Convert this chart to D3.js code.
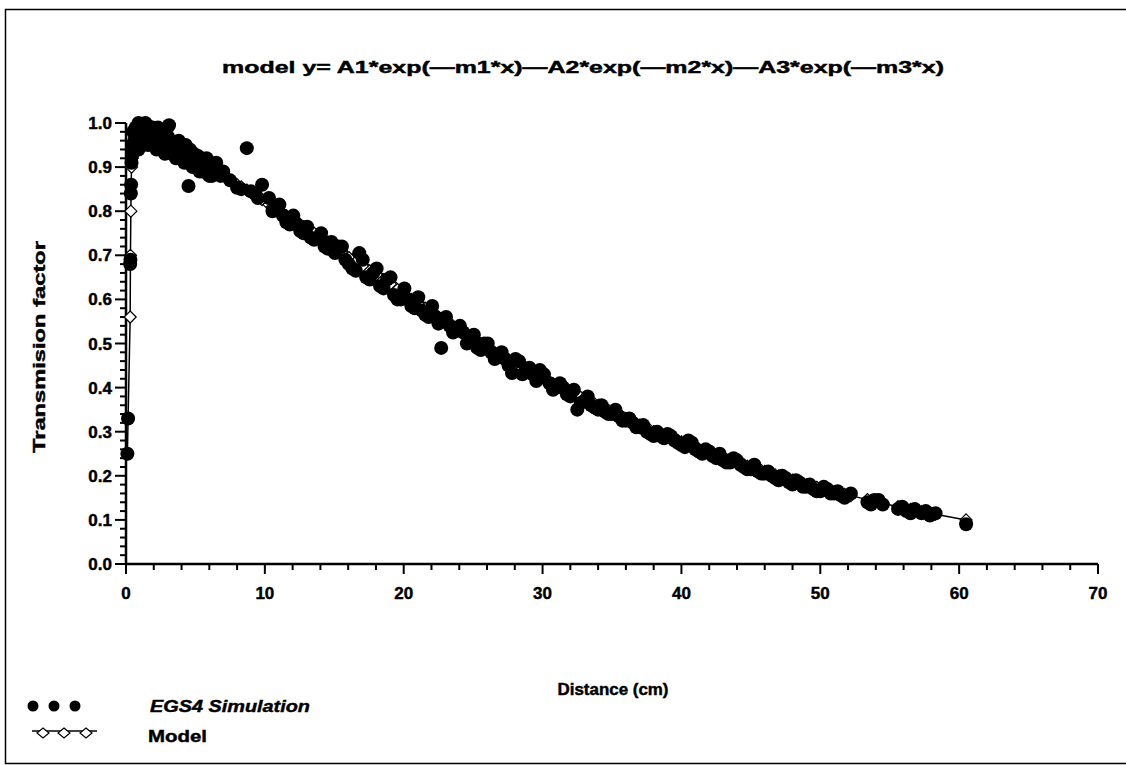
<!DOCTYPE html>
<html><head><meta charset="utf-8">
<script src="https://cdn.jsdelivr.net/npm/d3@7"></script>
<style>body{margin:0;background:#fff}svg{display:block}text{font-family:"Liberation Sans",Arial,sans-serif;font-weight:bold;fill:#000;stroke:#000;stroke-width:0.45}</style>
</head><body>
<script>
const titleText = "model  y= A1*exp(\u2014m1*x)\u2014A2*exp(\u2014m2*x)\u2014A3*exp(\u2014m3*x)";
const xLabel = "Distance (cm)";
const yLabel = "Transmision factor";
const seriesNames = ["EGS4 Simulation", "Model"];
const xTicks = [0,10,20,30,40,50,60,70];
const yTicks = [0,0.1,0.2,0.3,0.4,0.5,0.6,0.7,0.8,0.9,1.0];

const distance = [0.1,0.15,0.3,0.32,0.35,0.37,0.4,0.45,0.5,0.6,0.7,0.8,0.9,1.0,1.1,1.2,1.3,1.4,1.5,1.6,1.8,2.0,2.2,2.4,2.6,2.8,3.0,3.1,3.4,3.6,3.8,4.0,4.2,4.5,4.6,4.8,5.0,5.3,5.6,6.0,6.4,7.0,8.0,8.7,9.3,9.8,
10.3,10.8,11.3,11.8,12.3,12.8,13.3,13.8,14.3,14.8,15.3,15.8,16.3,16.8,17.3,17.8,18.3,18.8,19.3,19.8,20.3,20.8,21.3,21.8,22.3,22.7,23.3,23.8,24.3,24.8,25.3,25.8,26.3,26.8,27.3,27.8,28.3,28.8,29.3,29.8,
30.5,31.0,31.5,32.0,32.5,33.0,33.5,34.0,34.5,35.0,35.5,36.0,36.5,37.0,37.5,38.0,38.5,39.0,39.5,40.0,40.5,41.0,41.5,42.0,42.5,43.0,43.5,44.0,44.5,45.0,45.5,46.0,46.5,47.0,47.5,48.0,48.5,49.0,49.5,50.0,50.5,51.0,51.5,52.2,53.4,53.9,54.5,55.6,56.2,56.8,57.3,57.9,58.3,60.5,
0.5,0.7,0.9,1.0,1.2,1.5,1.7,1.9,2.1,2.3,2.5,2.7,2.9,3.2,3.3,3.5,3.7,3.9,4.1,4.3,4.7,4.9,5.1,5.2,5.5,5.8,6.2,6.5,6.8,7.5,8.3,9.0,9.5,
10.55,11.05,11.55,12.05,12.55,13.05,13.55,14.05,14.55,15.05,15.55,16.05,16.55,17.05,17.55,18.05,18.55,19.05,19.55,20.05,20.55,21.05,21.55,22.05,22.5,23.05,23.55,24.05,24.55,25.05,25.55,26.05,26.55,27.05,27.55,28.05,28.55,29.05,29.55,30.1,
30.75,31.25,31.75,32.25,32.75,33.25,33.75,34.25,34.75,35.25,35.75,36.25,36.75,37.25,37.75,38.25,38.75,39.25,39.75,40.25,40.75,41.25,41.75,42.25,42.75,43.25,43.75,44.25,44.75,45.25,45.75,46.25,46.75,47.25,47.75,48.25,48.75,49.25,49.75,50.25,50.75,51.25,51.75,53.65,54.2,55.9,56.5,57.6];

const egs4 = [0.25,0.33,0.68,0.69,0.84,0.86,0.91,0.95,0.98,0.96,0.99,0.97,1.00,0.96,0.99,0.95,0.98,1.00,0.97,0.95,0.99,0.96,0.94,0.98,0.95,0.93,0.97,0.995,0.94,0.92,0.96,0.93,0.91,0.857,0.94,0.90,0.92,0.89,0.91,0.88,0.90,0.89,0.853,0.943,0.84,0.86,
0.83,0.81,0.79,0.77,0.77,0.75,0.74,0.74,0.72,0.73,0.72,0.69,0.67,0.705,0.65,0.66,0.63,0.645,0.61,0.60,0.60,0.58,0.575,0.56,0.56,0.49,0.54,0.53,0.525,0.51,0.49,0.50,0.48,0.47,0.465,0.433,0.46,0.44,0.43,0.44,
0.41,0.40,0.40,0.38,0.35,0.37,0.36,0.35,0.345,0.34,0.335,0.325,0.32,0.31,0.30,0.29,0.29,0.295,0.28,0.27,0.28,0.26,0.25,0.255,0.24,0.235,0.23,0.235,0.22,0.215,0.21,0.205,0.20,0.19,0.195,0.18,0.185,0.175,0.17,0.165,0.17,0.16,0.155,0.16,0.14,0.145,0.135,0.125,0.12,0.125,0.115,0.11,0.115,0.09,
0.93,0.97,0.94,0.99,0.98,0.995,0.97,0.99,0.97,0.99,0.96,0.97,0.95,0.96,0.93,0.95,0.93,0.94,0.92,0.95,0.92,0.93,0.90,0.925,0.89,0.92,0.88,0.91,0.88,0.87,0.85,0.845,0.83,
0.80,0.815,0.775,0.79,0.755,0.765,0.735,0.75,0.715,0.705,0.72,0.68,0.665,0.69,0.645,0.67,0.625,0.65,0.60,0.625,0.585,0.605,0.565,0.585,0.545,0.56,0.525,0.54,0.50,0.52,0.485,0.50,0.465,0.48,0.45,0.465,0.43,0.445,0.415,0.43,
0.395,0.41,0.385,0.395,0.365,0.38,0.355,0.36,0.34,0.35,0.325,0.33,0.31,0.315,0.295,0.30,0.285,0.29,0.275,0.265,0.275,0.255,0.26,0.245,0.25,0.23,0.24,0.225,0.215,0.225,0.205,0.21,0.195,0.20,0.185,0.19,0.175,0.18,0.165,0.175,0.16,0.165,0.15,0.135,0.145,0.13,0.115,0.12];

const model = [0.25,0.33,0.56,0.70,0.80,0.86,0.90,0.92,0.93,0.94,0.945,0.95,0.955,0.958,0.96,0.96,0.962,0.962,0.963,0.963,0.963,0.962,0.96,0.958,0.955,0.952,0.95,0.948,0.944,0.94,0.937,0.933,0.93,0.925,0.923,0.92,0.915,0.91,0.905,0.898,0.89,0.88,0.86,0.848,0.836,0.826,
0.815,0.805,0.795,0.785,0.775,0.765,0.755,0.745,0.735,0.725,0.715,0.70,0.69,0.68,0.67,0.66,0.65,0.64,0.63,0.615,0.605,0.595,0.585,0.575,0.565,0.555,0.545,0.535,0.525,0.515,0.505,0.495,0.485,0.475,0.465,0.455,0.448,0.44,0.432,0.424,
0.413,0.405,0.397,0.39,0.382,0.375,0.367,0.36,0.352,0.345,0.337,0.33,0.322,0.315,0.307,0.30,0.295,0.29,0.283,0.277,0.271,0.265,0.258,0.252,0.246,0.24,0.235,0.23,0.225,0.22,0.215,0.21,0.205,0.20,0.195,0.19,0.185,0.18,0.176,0.172,0.168,0.164,0.16,0.155,0.146,0.142,0.138,0.13,0.126,0.122,0.119,0.116,0.113,0.10,
0.93,0.945,0.955,0.958,0.96,0.963,0.963,0.963,0.961,0.959,0.957,0.953,0.951,0.947,0.945,0.942,0.938,0.935,0.932,0.928,0.921,0.917,0.913,0.911,0.907,0.902,0.894,0.888,0.883,0.87,0.855,0.842,0.832,
0.81,0.80,0.79,0.78,0.77,0.76,0.75,0.74,0.73,0.72,0.708,0.695,0.685,0.675,0.665,0.655,0.645,0.635,0.622,0.61,0.60,0.59,0.58,0.57,0.56,0.55,0.54,0.53,0.52,0.51,0.50,0.49,0.48,0.47,0.46,0.452,0.444,0.436,0.428,0.42,
0.409,0.401,0.393,0.386,0.378,0.371,0.363,0.356,0.348,0.341,0.333,0.326,0.318,0.311,0.303,0.297,0.292,0.286,0.28,0.274,0.268,0.261,0.255,0.249,0.243,0.237,0.232,0.227,0.222,0.217,0.212,0.207,0.202,0.197,0.192,0.187,0.182,0.178,0.174,0.17,0.166,0.162,0.158,0.144,0.14,0.128,0.124,0.117];

const W = 1126, H = 765;
const svg = d3.select("body").append("svg").attr("width", W).attr("height", H);

// frame
svg.append("path").attr("d", "M1126,9.5 L5.5,9.5 L5.5,763.5 L1126,763.5").attr("fill","none").attr("stroke","#000").attr("stroke-width",1.5);

const x = d3.scaleLinear().domain([0,70]).range([126,1098]);
const y = d3.scaleLinear().domain([0,1]).range([564,123]);

// title
svg.append("text").attr("x", 583).attr("y", 73).attr("text-anchor","middle")
  .attr("font-size", 17).attr("textLength", 722).attr("lengthAdjust","spacingAndGlyphs").text(titleText);

// axes
const xAxis = svg.append("g").attr("transform", `translate(0,${y(0)})`);
xAxis.append("line").attr("x1", x(0)).attr("x2", x(70)).attr("stroke","#000").attr("stroke-width",2.5);
xAxis.selectAll("line.minor").data(d3.range(0,70.01,2)).join("line").attr("class","minor")
  .attr("x1", d=>x(d)).attr("x2", d=>x(d)).attr("y1",0).attr("y2", d=> d%10===0 ? 10 : 6).attr("stroke","#000").attr("stroke-width",2);
xAxis.selectAll("text").data(xTicks).join("text").attr("x", d=>x(d)).attr("y", 35).attr("text-anchor","middle").attr("font-size",17).text(d=>d);

const yAxis = svg.append("g").attr("transform", `translate(${x(0)},0)`);
yAxis.append("line").attr("y1", y(0)).attr("y2", y(1)).attr("stroke","#000").attr("stroke-width",2.5);
yAxis.selectAll("line.minor").data(d3.range(0,50.5,1).map(i=>i/50)).join("line").attr("class","minor")
  .attr("y1", d=>y(d)).attr("y2", d=>y(d)).attr("x1",0).attr("x2", (d,i)=> i%5===0 ? -11 : -6).attr("stroke","#000").attr("stroke-width",2);
yAxis.selectAll("text").data(yTicks).join("text").attr("x", -14).attr("y", d=>y(d)+6).attr("text-anchor","end").attr("font-size",17).text(d=>d3.format(".1f")(d));

// axis labels
svg.append("text").attr("x", 613).attr("y", 695).attr("text-anchor","middle").attr("font-size",16.5).attr("textLength",111).attr("lengthAdjust","spacingAndGlyphs").text(xLabel);
svg.append("text").attr("transform","translate(45,347) rotate(-90)").attr("text-anchor","middle").attr("font-size",17).attr("textLength",212).attr("lengthAdjust","spacingAndGlyphs").text(yLabel);

// model line and diamonds
const pts = distance.map((d,i)=>({x:d, s:egs4[i], m:model[i]}));
const linePts = pts.slice().sort((a,b)=>a.x-b.x);
svg.append("path").datum(linePts).attr("fill","none").attr("stroke","#000").attr("stroke-width",1.5)
  .attr("d", d3.line().x(d=>x(d.x)).y(d=>y(d.m)));
const diamond = "M0,-6 L6,0 L0,6 L-6,0 Z";
svg.selectAll("path.dm").data(pts).join("path").attr("class","dm")
  .attr("transform", d=>`translate(${x(d.x)},${y(d.m)})`).attr("d", diamond).attr("fill","#fff").attr("stroke","#000").attr("stroke-width",1.2);

// simulation dots
svg.selectAll("circle.sim").data(pts).join("circle").attr("class","sim")
  .attr("cx", d=>x(d.x)).attr("cy", d=>y(d.s)).attr("r", 7).attr("fill","#000");

// legend
const lg = svg.append("g");
[33,54,75].forEach(cx=> lg.append("circle").attr("cx",cx).attr("cy",706).attr("r",5.5).attr("fill","#000"));
lg.append("text").attr("x",150).attr("y",712).attr("font-size",17).attr("font-style","italic").attr("textLength",160).attr("lengthAdjust","spacingAndGlyphs").text(seriesNames[0]);
lg.append("line").attr("x1",32).attr("x2",97).attr("y1",731).attr("y2",731).attr("stroke","#000").attr("stroke-width",1.5);
[43,64,86].forEach(cx=> lg.append("path").attr("transform",`translate(${cx},733)`).attr("d","M0,-5 L6,0 L0,5 L-6,0 Z").attr("fill","#fff").attr("stroke","#000").attr("stroke-width",1.2));
lg.append("text").attr("x",148).attr("y",742).attr("font-size",17).attr("textLength",59).attr("lengthAdjust","spacingAndGlyphs").text(seriesNames[1]);
</script>
</body></html>
